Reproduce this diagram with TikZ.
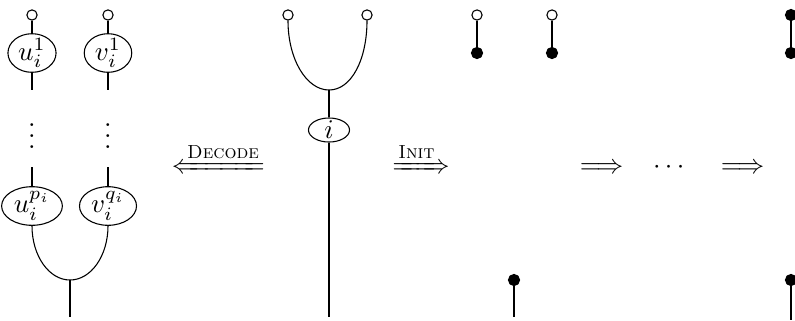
\documentclass[tikz,border=0pt]{standalone}
\usepackage{mathtools}
\usetikzlibrary{shapes.geometric}
\begin{document}
\begin{tikzpicture}[x=0.37037pt,y=-0.37037pt,
  opendot/.style={circle,draw,fill=white,inner sep=0pt,minimum size=3.8pt},
  fulldot/.style={circle,draw,fill=black,inner sep=0pt,minimum size=4.1pt},
  elnode/.style={ellipse,draw,inner xsep=1.2pt,inner ysep=-0.5pt,minimum width=17.6pt,minimum height=14.3pt},
  inode/.style={ellipse,draw,inner xsep=1.5pt,inner ysep=-0.5pt,minimum width=15.2pt,minimum height=8.9pt},
  txt/.style={anchor=base,inner sep=0pt}]
\useasboundingbox (0,0) rectangle (795,320);
% ---------- left: decoded ----------
\node[opendot] (ou) at (32,15) {};
\node[opendot] (ov) at (108,15) {};
\node[elnode] (u1) at (32,53) {$u_i^1$};
\node[elnode] (v1) at (108,53) {$v_i^1$};
\coordinate (u1e) at (32,90);
\coordinate (v1e) at (108,90);
\node[txt] (ud) at (32,148.4) {$\vdots$};
\node[txt] (vd) at (108,148.4) {$\vdots$};
\coordinate (ups) at (32,167);
\coordinate (vqs) at (108,167);
\node[elnode] (up) at (32,206) {$u_i^{p_i}$};
\node[elnode] (vq) at (108,206) {$v_i^{q_i}$};
\coordinate (m1) at (70,280);
\coordinate (b1) at (70,317);
\draw (ou) -- (u1);
\draw (ov) -- (v1);
\draw (u1) -- (u1e);
\draw (v1) -- (v1e);
\draw (ups) -- (up);
\draw (vqs) -- (vq);
\draw (up.south) .. controls +(0,30) and +(-21,0) .. (m1);
\draw (vq.south) .. controls +(0,30) and +(21,0) .. (m1);
\draw (m1) -- (b1);
% ---------- decode arrow ----------
\node[txt] (dec) at (218.5,173.5) {$\xLeftarrow{\textsc{Decode}}$};
% ---------- middle ----------
\node[opendot] (c1) at (288,15) {};
\node[opendot] (c2) at (367,15) {};
\coordinate (m2) at (329,90);
\node[inode] (ii) at (329,130) {$i$};
\coordinate (b2) at (329,317);
\draw (c1.south) .. controls +(0,38.5) and +(-22.6,0) .. (m2);
\draw (c2.south) .. controls +(0,38.5) and +(22.6,0) .. (m2);
\draw (m2) -- (ii);
\draw (ii) -- (b2);
% ---------- init arrow ----------
\node[txt] (ini) at (421,173.5) {$\xRightarrow{\textsc{Init}}$};
% ---------- right ----------
\node[opendot] (r1o) at (477,15) {};
\node[fulldot] (r1f) at (477,53) {};
\node[opendot] (r2o) at (552,15) {};
\node[fulldot] (r2f) at (552,53) {};
\draw (r1o) -- (r1f);
\draw (r2o) -- (r2f);
\node[fulldot] (r3f) at (514,280) {};
\coordinate (b3) at (514,317);
\draw (r3f) -- (b3);
\node[txt] (a1) at (601.5,173) {$\Longrightarrow$};
\node[txt] (dots) at (671,173) {$\cdots$};
\node[txt] (a2) at (742.5,173) {$\Longrightarrow$};
\node[fulldot] (r4a) at (791,15) {};
\node[fulldot] (r4b) at (791,53) {};
\draw (r4a) -- (r4b);
\node[fulldot] (r5f) at (791,280) {};
\coordinate (b5) at (791,320);
\draw (r5f) -- (b5);
\end{tikzpicture}
\end{document}
